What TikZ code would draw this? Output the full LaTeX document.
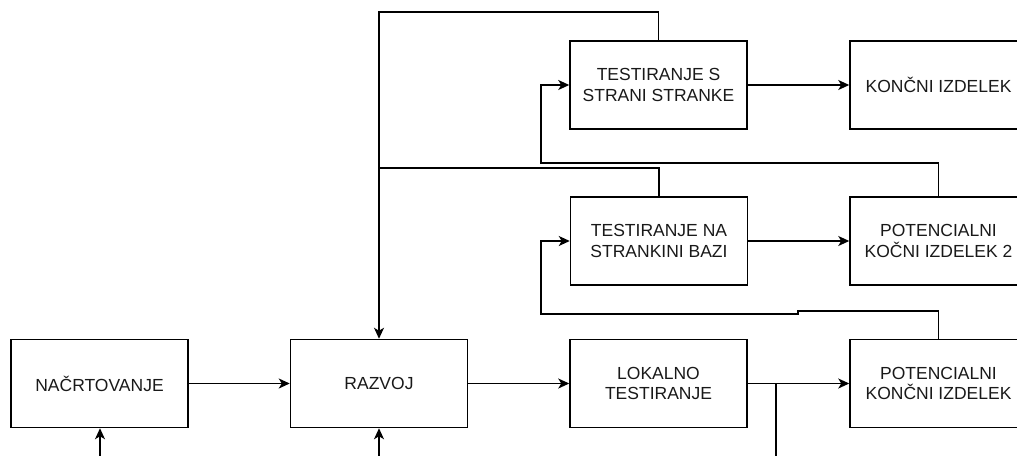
\documentclass[tikz,border=0pt]{standalone}
\usepackage{fontspec}
\setmainfont{Liberation Sans}
\usetikzlibrary{arrows.meta}
\begin{document}
\begin{tikzpicture}[x=1pt,y=-1pt,
  box/.style={draw, line width=1.5pt, minimum width=177pt, minimum height=88pt, inner sep=0pt, align=center, font=\fontsize{17.5}{20.5}\selectfont, text=black!90},
  conn/.style={line width=1.5pt},
  arr/.style={conn, -{Stealth[length=11pt,width=10pt,inset=3pt]}}]
\useasboundingbox (0,0) rectangle (1017,455);
\clip (0,0) rectangle (1017,455);
\node[box] (nac) at (99.5,383.5) {NAČRTOVANJE};
\node[box] (raz) at (379,383.5) {RAZVOJ};
\node[box] (lok) at (658.5,383.5) {LOKALNO\\TESTIRANJE};
\node[box] (pot1) at (938.5,383.5) {POTENCIALNI\\KONČNI IZDELEK};
\node[box] (tna) at (659,241) {TESTIRANJE NA\\STRANKINI BAZI};
\node[box] (pot2) at (938.5,241) {POTENCIALNI\\KOČNI IZDELEK 2};
\node[box] (ts) at (658.5,85) {TESTIRANJE S\\STRANI STRANKE};
\node[box] (kon) at (938.5,85) {KONČNI IZDELEK};
% free ends and bends
\coordinate (inN) at (100,460);
\coordinate (inR) at (379,460);
\coordinate (br) at (776,383.5);
\coordinate (brEnd) at (776,460);
% main row
\draw[arr] (nac.east) -- (raz.west);
\draw[arr] (raz.east) -- (lok.west);
\draw[arr] (lok.east) -- (pot1.west);
\draw[conn] (br) -- (brEnd);
\draw[arr] (inN) -- (nac.south -| inN);
\draw[arr] (inR) -- (raz.south);
% middle and top rows
\draw[arr] (ts.east) -- (kon.west);
\draw[arr] (tna.east) -- (pot2.west);
% feedback to razvoj
\draw[arr] (ts.north) -- (658.5,12) -- (379,12) -- (raz.north);
\draw[conn] (tna.north) -- (659,168) -- (379,168);
% potencialni 2 -> testiranje s strani stranke
\draw[arr] (pot2.north) -- (938.5,163) -- (541,163) -- (541,85) -- (ts.west);
% potencialni -> testiranje na strankini bazi
\draw[arr] (pot1.north) -- (938.5,311) -- (798,311) -- (798,314) -- (541,314) -- (541,241) -- (tna.west);
\end{tikzpicture}
\end{document}
